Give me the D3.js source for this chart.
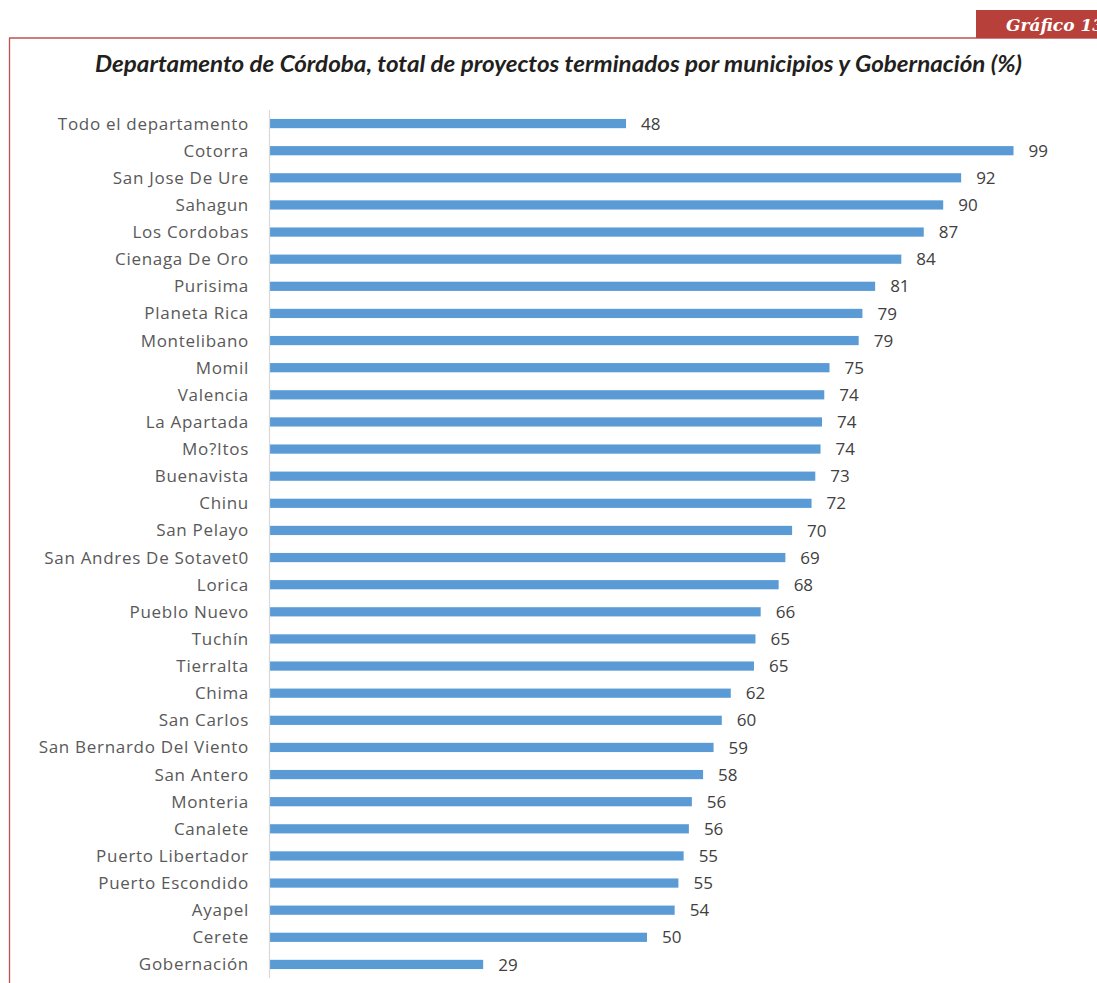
<!DOCTYPE html>
<html>
<head>
<meta charset="utf-8">
<script src="https://cdn.jsdelivr.net/npm/d3@7/dist/d3.min.js"></script>
<style>
  html, body { margin: 0; padding: 0; background: #fff; overflow: hidden; }
  svg { display: block; }
</style>
</head>
<body>
<svg id="chart" width="1097" height="983"></svg>
<script>
const categories = [
  "Todo el departamento", "Cotorra", "San Jose De Ure", "Sahagun", "Los Cordobas",
  "Cienaga De Oro", "Purisima", "Planeta Rica", "Montelibano", "Momil",
  "Valencia", "La Apartada", "Mo?Itos", "Buenavista", "Chinu",
  "San Pelayo", "San Andres De Sotavet0", "Lorica", "Pueblo Nuevo", "Tuchín",
  "Tierralta", "Chima", "San Carlos", "San Bernardo Del Viento", "San Antero",
  "Monteria", "Canalete", "Puerto Libertador", "Puerto Escondido", "Ayapel",
  "Cerete", "Gobernación"
];
const values = [
  47.6, 99.4, 92.4, 90.0, 87.4,
  84.4, 80.9, 79.2, 78.7, 74.8,
  74.1, 73.8, 73.6, 72.9, 72.4,
  69.8, 68.9, 68.0, 65.6, 64.9,
  64.7, 61.6, 60.4, 59.3, 57.9,
  56.4, 56.0, 55.3, 54.6, 54.1,
  50.4, 28.5
];
const titleText = "Departamento de Córdoba, total de proyectos terminados por municipios y Gobernación (%)";
const tabText = "Gráfico 13";
const xDomain = [0, 100];

const svg = d3.select("#chart");
const data = categories.map((c, i) => ({ c, v: values[i] }));

// Frame
const frameColor = "#C0504D";
svg.append("line").attr("x1", 9).attr("x2", 1097).attr("y1", 38).attr("y2", 38)
  .attr("stroke", frameColor).attr("stroke-width", 1.3);
svg.append("line").attr("x1", 9.5).attr("x2", 9.5).attr("y1", 38).attr("y2", 983)
  .attr("stroke", frameColor).attr("stroke-width", 1.3);

// Tab
svg.append("rect").attr("x", 976).attr("y", 10).attr("width", 130).attr("height", 28)
  .attr("fill", "#B8403A");
svg.append("text").attr("x", 1006).attr("y", 31)
  .attr("font-family", "'DejaVu Serif', 'Liberation Serif', serif")
  .attr("font-style", "italic").attr("font-weight", "bold")
  .attr("font-size", 17).attr("fill", "#fff").text(tabText);

// Title
svg.append("text").attr("x", 95).attr("y", 72)
  .attr("font-family", "Lato, 'Open Sans', sans-serif")
  .attr("font-style", "italic").attr("font-weight", "bold")
  .attr("font-size", 22).attr("fill", "#231F20")
  .attr("textLength", 927).attr("lengthAdjust", "spacingAndGlyphs")
  .text(titleText);

// Scales
const x = d3.scaleLinear().domain(xDomain).range([270, 1018]);
const y = d3.scaleBand().domain(categories).range([110, 978]).paddingInner(0.66).paddingOuter(0.33);

// Bars
svg.append("g").selectAll("rect").data(data).join("rect")
  .attr("x", x(0))
  .attr("y", d => y(d.c))
  .attr("width", d => x(d.v) - x(0))
  .attr("height", y.bandwidth())
  .attr("fill", "#5B9BD5");

// Axis line
svg.append("line").attr("x1", 269.5).attr("x2", 269.5).attr("y1", 110).attr("y2", 978)
  .attr("stroke", "#D9D9D9").attr("stroke-width", 1.2);

// Category labels
const yAxis = d3.axisLeft(y).tickSize(0).tickPadding(0);
const ga = svg.append("g").attr("transform", "translate(249,0)").call(yAxis);
ga.select(".domain").remove();
ga.selectAll("text")
  .attr("font-family", "'Open Sans', sans-serif")
  .attr("font-size", 17)
  .attr("fill", "#595959")
  .attr("dy", "0.35em")
  .attr("letter-spacing", 0.7);

// Value labels
const fmt = d3.format(".0f");
svg.append("g").selectAll("text").data(data).join("text")
  .attr("x", d => x(d.v) + 15)
  .attr("y", d => y(d.c) + y.bandwidth() / 2)
  .attr("dy", "0.36em")
  .attr("font-family", "'Open Sans', sans-serif")
  .attr("font-size", 17)
  .attr("fill", "#404040")
  .text(d => fmt(d.v));
</script>
</body>
</html>
